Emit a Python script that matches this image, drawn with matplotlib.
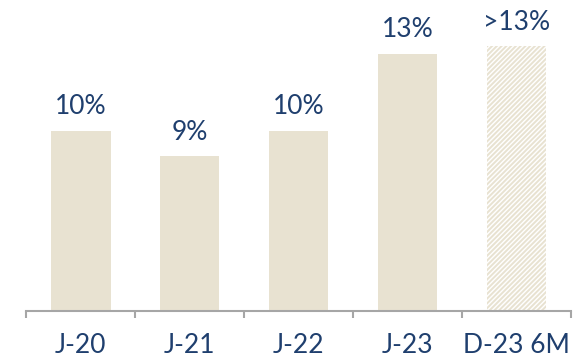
import matplotlib.pyplot as plt
import numpy as np

categories = ['J-20', 'J-21', 'J-22', 'J-23', 'D-23 6M']
values = [10.0, 8.6, 10.0, 14.3, 14.7]
labels = ['10%', '9%', '10%', '13%', '>13%']
estimated = [False, False, False, False, True]

beige = '#E8E2D1'
navy = '#1F3F6E'

plt.rcParams['font.family'] = ['Lato', 'DejaVu Sans']
plt.rcParams['hatch.linewidth'] = 1.4

fig = plt.figure(figsize=(5.81, 3.58), dpi=100)
ax = fig.add_axes([0.0448, 0.1313, 0.9380, 0.8687])

x = np.arange(len(categories))
for xi, v, est in zip(x, values, estimated):
    if est:
        # forecast bar: striped
        ax.bar(xi, v, width=0.55, color='white', edgecolor=beige,
               hatch='///////', linewidth=0)
    else:
        ax.bar(xi, v, width=0.55, color=beige, linewidth=0)

for xi, v, lab in zip(x, values, labels):
    ax.annotate(lab, (xi, v), xytext=(0, 12), textcoords='offset points',
                ha='center', va='baseline', fontsize=19, color=navy)

ax.set_xlim(-0.5, len(categories) - 0.5)
ax.set_ylim(0, 17.28)

ax.set_xticks(np.arange(len(categories) + 1) - 0.5)
ax.set_xticklabels([])
ax.set_xticks(x, minor=True)
ax.set_xticklabels(categories, minor=True, fontsize=19, color=navy)
ax.tick_params(axis='x', which='major', direction='out', length=5,
               width=1.5, color='#A6A6A6')
ax.tick_params(axis='x', which='minor', length=0, pad=16)
ax.set_yticks([])

for s in ['top', 'right', 'left']:
    ax.spines[s].set_visible(False)
ax.spines['bottom'].set_color('#A6A6A6')
ax.spines['bottom'].set_linewidth(1.5)

fig.savefig('out.png', dpi=100)
